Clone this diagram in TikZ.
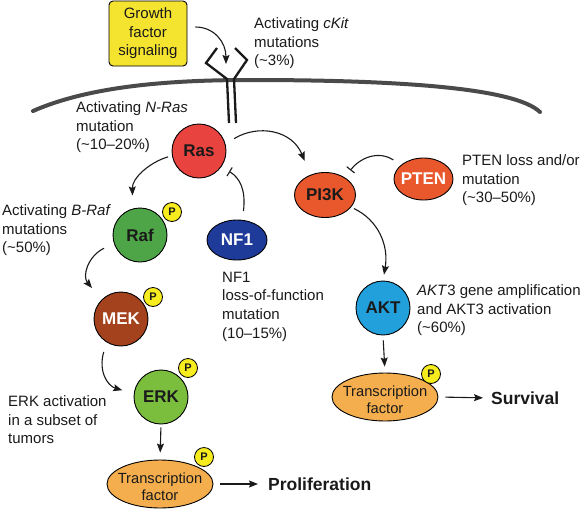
\documentclass[tikz,border=0pt]{standalone}
\usepackage{fontspec}
\setmainfont{Liberation Sans}
\usetikzlibrary{arrows.meta,shapes.geometric}
\definecolor{ink}{HTML}{1A1A1A}
\definecolor{gfyellow}{HTML}{F4E32F}
\definecolor{rasred}{HTML}{E8433F}
\definecolor{pired}{HTML}{E9582C}
\definecolor{rafgreen}{HTML}{4DA547}
\definecolor{mekbrown}{HTML}{A5421E}
\definecolor{erkgreen}{HTML}{7BBE3E}
\definecolor{nfblue}{HTML}{1E3B9A}
\definecolor{aktblue}{HTML}{22A0DC}
\definecolor{tforange}{HTML}{F5AE4E}
\definecolor{pyellow}{HTML}{F7EC1E}
\definecolor{membr}{HTML}{4A4A4A}
\begin{document}
\begin{tikzpicture}[x=1pt,y=-1pt,
  mol/.style={circle,draw=black,line width=0.9pt,minimum size=54pt,inner sep=0pt,text=ink,font=\fontsize{17}{17}\selectfont\bfseries},
  ovl/.style={ellipse,draw=black,line width=0.9pt,inner xsep=-4pt,inner ysep=0pt,text=ink,font=\fontsize{17}{17}\selectfont\bfseries},
  pho/.style={circle,draw=black,line width=0.8pt,fill=pyellow,minimum size=19pt,inner sep=0pt,text=ink,font=\fontsize{11}{11}\selectfont\bfseries},
  txt/.style={anchor=north west,inner sep=0pt,align=left,font=\fontsize{15}{18.7}\selectfont,text=ink},
  act/.style={draw=ink,line width=1.1pt,-{Stealth[length=9pt,width=7pt,inset=1.5pt]}},
  inh/.style={draw=ink,line width=1.1pt,-{Bar[width=10pt]}},
  outc/.style={anchor=west,inner sep=0pt,font=\fontsize{17.5}{17.5}\selectfont\bfseries,text=ink},
  tfl/.style={ellipse,draw=black,line width=0.9pt,fill=tforange,minimum width=106pt,minimum height=48pt,inner sep=0pt},
  tftext/.style={font=\fontsize{14.7}{17}\selectfont,align=center,yshift=-3pt,text=ink},
  recp/.style={draw=ink,line width=2.3pt,line join=miter}
]
\useasboundingbox (0,0) rectangle (581,509);

% membrane
\draw[membr,line width=4pt,line cap=round] (33,111) .. controls (90,86) and (170,80) .. (250,80) .. controls (400,80) and (515,88) .. (540,112);

% receptor
\draw[recp] (217,48) -- (206,63) -- (227,79) -- (229,123);
\draw[recp] (235,48) -- (247,60) -- (234,79) -- (236,123);
\coordinate (rcp) at (226,64);

% growth factor
\node[draw=black,line width=0.9pt,fill=gfyellow,rounded corners=4pt,minimum width=78pt,minimum height=65pt,inner sep=0pt,align=center,text=ink,font=\fontsize{15}{18.5}\selectfont] (gf) at (148,33.5) {Growth\\factor\\signaling};
\draw[act] ([yshift=6.5pt,xshift=8pt]gf.east) .. controls (214,27) and (226,42) .. (rcp);

% molecules
\node[mol,fill=rasred] (ras) at (199,151) {Ras};
\node[mol,fill=rafgreen] (raf) at (140,235) {Raf};
\node[mol,fill=mekbrown,text=white] (mek) at (121,319) {MEK};
\node[mol,fill=erkgreen] (erk) at (161,397) {ERK};
\node[ovl,fill=nfblue,text=white,minimum width=60pt,minimum height=40pt] (nf1) at (237,240) {NF1};
\node[ovl,fill=pired,minimum width=61pt,minimum height=45pt] (pi3k) at (325,195) {PI3K};
\node[ovl,fill=pired,text=white,minimum width=59pt,minimum height=42pt] (pten) at (423.5,179) {PTEN};
\node[mol,fill=aktblue] (akt) at (383,308) {AKT};
\node[tfl,label={[tftext]center:Transcription\\factor}] (tf1) at (160,484) {};
\node[tfl,label={[tftext]center:Transcription\\factor}] (tf2) at (385,397) {};

% phosphorylation marks
\node[pho] (praf) at (172,212) {P};
\node[pho] (pmek) at (153,297) {P};
\node[pho] (perk) at (188,368) {P};
\node[pho] (ptf1) at (204,457) {P};
\node[pho] (ptf2) at (431,374) {P};

% outcomes
\node[outc] (prolif) at (268,484) {Proliferation};
\node[outc] (surv) at (491,398) {Survival};

% connectors
\draw[act,shorten <=10pt,shorten >=15pt] (ras.15) .. controls (258,124) and (292,130) .. (pi3k.126);
\draw[act,shorten <=4pt,shorten >=13pt] (ras.190) .. controls (150,162) and (132,178) .. (raf.105);
\draw[act,shorten <=11pt,shorten >=15pt] (raf.198) .. controls (88,256) and (82,276) .. (mek.135);
\draw[act,shorten <=10pt,shorten >=12pt] (mek.238) .. controls (98,372) and (108,386) .. (erk.173);
\draw[act,shorten <=3pt,shorten >=7pt] (erk.south) -- (tf1.north);
\draw[act,shorten <=7pt,shorten >=10pt] (tf1.east) -- (prolif.west);
\draw[inh,shorten <=9pt,shorten >=9pt] (nf1.75) .. controls (246,190) and (240,178) .. (ras.325);
\draw[inh,shorten <=9pt,shorten >=9pt] (pten.148) .. controls (378,150) and (360,158) .. (pi3k.42);
\draw[act,shorten <=3pt,shorten >=6pt] (pi3k.335) .. controls (378,220) and (389,245) .. (akt.north);
\draw[act,shorten <=5pt,shorten >=6pt] (akt.south) -- (tf2.north);
\draw[act,shorten <=7pt,shorten >=8pt] (tf2.east) -- (surv.west);

% annotations
\node[txt] (lckit) at (254,17.5) {Activating \textit{cKit}\\mutations\\(\textasciitilde3\%)};
\node[txt] (lnras) at (76,101.5) {Activating \textit{N-Ras}\\mutation\\(\textasciitilde10--20\%)};
\node[txt] (lbraf) at (2,204.5) {Activating \textit{B-Raf}\\mutations\\(\textasciitilde50\%)};
\node[txt] (lnf1) at (222,271.5) {NF1\\loss-of-function\\mutation\\(10--15\%)};
\node[txt] (lpten) at (462,154.5) {PTEN loss and/or\\mutation\\(\textasciitilde30--50\%)};
\node[txt] (lakt) at (417,284.5) {\textit{AKT}3 gene amplification\\and AKT3 activation\\(\textasciitilde60\%)};
\node[txt] (lerk) at (8,395.5) {ERK activation\\in a subset of\\tumors};
\end{tikzpicture}
\end{document}
